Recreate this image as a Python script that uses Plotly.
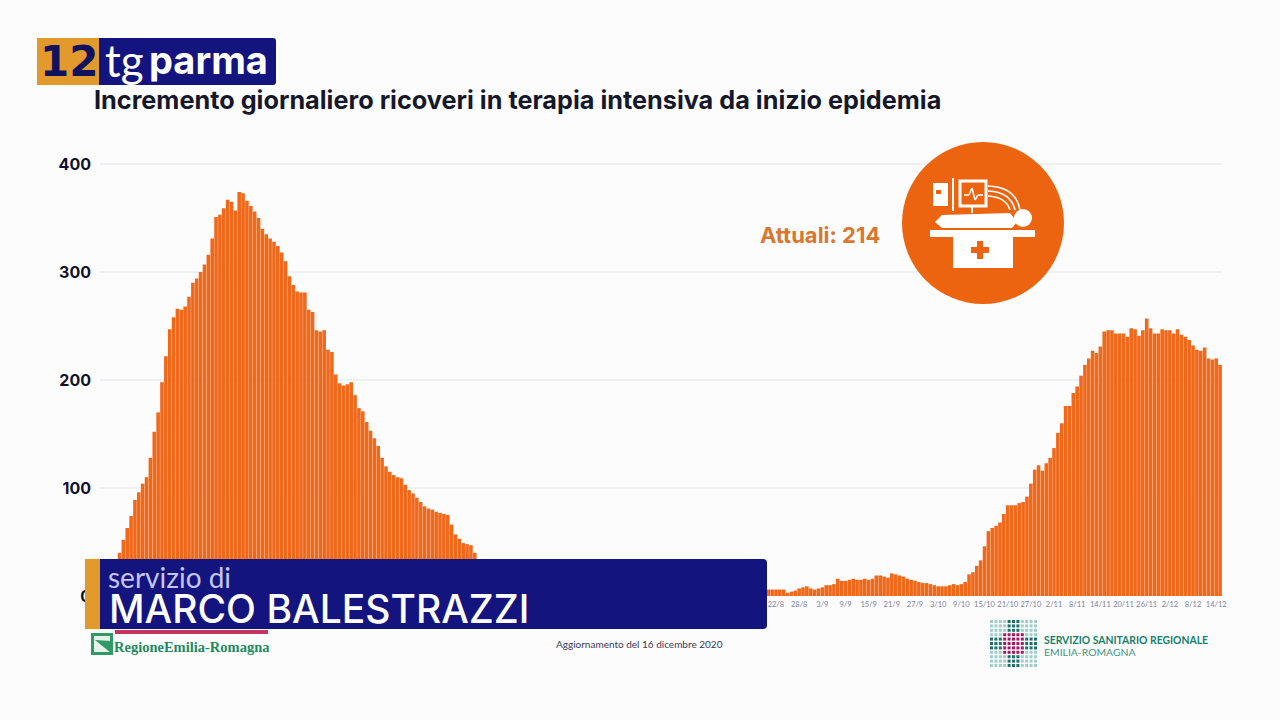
import datetime as dt
import plotly.graph_objects as go

# ---------- data ----------
first_wave = [6, 14, 26, 40, 52, 63, 74, 89, 96, 104, 110, 128, 152, 170, 198, 222, 247, 258, 266, 265,
              268, 277, 290, 294, 300, 307, 316, 331, 351, 353, 359, 367, 365, 357, 374, 373, 366, 361,
              356, 350, 340, 335, 331, 328, 324, 318, 310, 296, 288, 282, 281, 281, 265, 263, 246, 245,
              246, 228, 226, 205, 197, 195, 196, 198, 186, 174, 171, 161, 153, 146, 139, 128, 120, 115,
              112, 110, 109, 103, 98, 95, 91, 87, 83, 81, 80, 78, 77, 76, 75, 66, 57, 53, 49, 48, 47, 40, 34]
summer = [30, 28, 26, 25, 24, 22, 21, 20, 19, 18, 17, 16, 15, 14, 14, 13, 12, 12, 11, 11,
          10, 10, 9, 9, 8, 8, 7, 7, 7, 6, 6, 6, 5, 5, 5, 5, 4, 4, 4, 4,
          3, 3, 3, 3, 3, 3, 2, 2, 2, 2, 2, 2, 2, 2, 2, 2, 2, 2, 3, 3,
          3, 3, 4, 4, 4, 5, 5, 5, 5, 6, 6, 6, 6, 6]
second_wave = [6, 6, 6, 6, 6, 3, 4, 5, 7, 8, 9, 7, 6, 7, 8, 10, 10, 11, 16, 14,
               14, 15, 16, 15, 15, 16, 15, 16, 19, 19, 18, 17, 21, 20, 19, 18, 16, 15, 14, 13,
               12, 12, 11, 10, 9, 9, 9, 10, 11, 10, 11, 13, 20, 22, 28, 33, 46, 60, 63, 65,
               68, 76, 84, 84, 84, 86, 87, 92, 104, 117, 121, 116, 123, 128, 137, 151, 160, 176, 176, 188,
               194, 204, 214, 220, 227, 225, 231, 245, 246, 246, 243, 243, 243, 240, 248, 247, 241, 246, 257, 248,
               243, 243, 247, 246, 246, 243, 247, 242, 240, 237, 232, 228, 227, 230, 220, 219, 220, 214]
values = first_wave + summer + second_wave
last_day = dt.date(2020, 12, 15)
dates = [last_day - dt.timedelta(days=len(values) - 1 - i) for i in range(len(values))]
categories = [f"{d.day}/{d.month}" for d in dates]
x_tick_labels = ["22/8", "28/8", "3/9", "9/9", "15/9", "21/9", "27/9", "3/10", "9/10", "15/10",
                 "21/10", "27/10", "2/11", "8/11", "14/11", "20/11", "26/11", "2/12", "8/12", "14/12"]
y_ticks = [0, 100, 200, 300, 400]

TITLE = "Incremento giornaliero ricoveri in terapia intensiva da inizio epidemia"
ORANGE = "#f0681a"
NAVY = "#14147e"
GOLD = "#e39a2d"
W, H = 1280, 720


def px(x):
    return x / W


def py(y):
    return 1 - y / H


shapes = []
annotations = []


def rect(x0, y0, x1, y1, color, line=None, lw=0):
    shapes.append(dict(type="rect", xref="paper", yref="paper", x0=px(x0), x1=px(x1), y0=py(y1), y1=py(y0),
                       fillcolor=color, line=dict(color=line or color, width=lw), layer="above"))


def right_rounded(x0, y0, x1, y1, r, color):
    path = (f"M {px(x0):.5f},{py(y0):.5f} L {px(x1 - r):.5f},{py(y0):.5f} "
            f"Q {px(x1):.5f},{py(y0):.5f} {px(x1):.5f},{py(y0 + r):.5f} "
            f"L {px(x1):.5f},{py(y1 - r):.5f} Q {px(x1):.5f},{py(y1):.5f} {px(x1 - r):.5f},{py(y1):.5f} "
            f"L {px(x0):.5f},{py(y1):.5f} Z")
    shapes.append(dict(type="path", xref="paper", yref="paper", layer="above", fillcolor=color,
                       line=dict(width=0), path=path))


def circle(cx, cy, r, color):
    shapes.append(dict(type="circle", xref="paper", yref="paper", x0=px(cx - r), x1=px(cx + r),
                       y0=py(cy + r), y1=py(cy - r), fillcolor=color, line=dict(width=0), layer="above"))


def seg(x0, y0, x1, y1, color, lw):
    shapes.append(dict(type="line", xref="paper", yref="paper", x0=px(x0), x1=px(x1), y0=py(y0), y1=py(y1),
                       line=dict(color=color, width=lw), layer="above"))


def text(x, y, s, size, color, family="Lato", anchor="left", weight=None):
    font = dict(size=size, color=color, family=family)
    if weight:
        font["weight"] = weight
    annotations.append(dict(xref="paper", yref="paper", x=px(x), y=py(y), text=s, showarrow=False,
                            xanchor=anchor, yanchor="middle", font=font, borderpad=0, borderwidth=0))


# logo
rect(37, 38, 99, 85, GOLD)
right_rounded(99, 38, 276, 85, 3, NAVY)
text(40, 61, "<b>12</b>", 42, "#10125e", "DejaVu Sans")
text(105, 60, "tg", 44, "#ffffff", "Lato")
text(149, 60, "<b>parma</b>", 38, "#ffffff", "Inter")
# title
text(94, 100, f"<b>{TITLE}</b>", 25.25, "#15172b", "Inter")

# ICU badge
circle(983, 223, 81, "#ec6410")
text(760, 235, "<b>Attuali: 214</b>", 22, "#d9772f", "Inter")
rect(930, 230, 1035, 237, "#ffffff")
rect(953, 237, 1013, 268, "#ffffff")
rect(971, 247, 989, 253, "#ec6410")
rect(977, 241, 983, 259, "#ec6410")
shapes.append(dict(type="path", xref="paper", yref="paper", layer="above", fillcolor="#ffffff", line=dict(width=0),
                   path=" ".join(
                       f"{c} {px(a):.5f},{py(b):.5f}" for c, a, b in
                       [("M", 942, 215), ("L", 1010, 213), ("L", 1017, 222), ("L", 1012, 228), ("L", 942, 228),
                        ("L", 935, 222)]) + " Z"))
circle(1023, 218, 9, "#ffffff")
rect(960, 181, 986, 206, "#ec6410", "#ffffff", 3)
rect(933, 183, 948, 206, "#ffffff")
rect(936, 190, 941, 194, "#ec6410")
seg(953, 178, 953, 211, "#ffffff", 2)
seg(972, 206, 972, 213, "#ffffff", 2)
seg(964, 195, 969, 195, "#ffffff", 1.5)
seg(969, 195, 972, 188, "#ffffff", 1.5)
seg(972, 188, 975, 200, "#ffffff", 1.5)
seg(975, 200, 978, 195, "#ffffff", 1.5)
seg(978, 195, 983, 195, "#ffffff", 1.5)
for off in (0, 5, 10):
    shapes.append(dict(type="path", xref="paper", yref="paper", layer="above", line=dict(color="#ffffff", width=1.6),
                       path=f"M {px(988):.5f},{py(186 + off):.5f} Q {px(1016 - off):.5f},{py(187 + off):.5f} "
                            f"{px(1020 - off):.5f},{py(210):.5f}"))

# presenter banner
rect(85, 559, 101, 629, GOLD)
right_rounded(100, 559, 767, 629, 4, NAVY)
text(108, 577, "servizio di", 28, "#c3c6f0", "Lato")
text(109, 608, "MARCO BALESTRAZZI", 39, "#ffffff", "Inter", weight=500)

# footer
rect(115, 630, 268, 634, "#c0365f")
rect(91, 633, 113, 655, "#2f9a68")
rect(94, 636, 110, 652, "#e6f1ea")
shapes.append(dict(type="path", xref="paper", yref="paper", layer="above", fillcolor="#2f9a68", line=dict(width=0),
                   path=f"M {px(95):.5f},{py(640):.5f} L {px(111):.5f},{py(641):.5f} L {px(111):.5f},{py(653):.5f} Z"))
text(114, 647, "<b>RegioneEmilia-Romagna</b>", 14.5, "#1f8a5e", "Liberation Serif")
text(556, 644, "Aggiornamento del 16 dicembre 2020", 10, "#3a3a55", "Lato")
text(1044, 640, "<b>SERVIZIO SANITARIO REGIONALE</b>", 10.4, "#17806b", "Lato")
text(1044, 652, "EMILIA-ROMAGNA", 10.4, "#3f9583", "Lato")

# dot-matrix logo
for row in range(11):
    for col in range(11):
        x = 990 + col * 4.4
        y = 620 + row * 4.4
        dc, dr = abs(col - 5), abs(row - 5)
        if dc <= 2 and dr <= 2:
            color = "#a31a66"
        elif dc <= 1 or dr <= 1:
            color = "#1f6f6c"
        else:
            color = "#9fcfc8"
        rect(x, y, x + 3, y + 3, color)

fig = go.Figure(go.Bar(x=list(range(len(values))), y=values, marker=dict(color=ORANGE, line=dict(width=0)),
                       customdata=categories, hovertemplate="%{customdata}: %{y}<extra></extra>"))

tick_positions = []
search_from = 0
for label in x_tick_labels:
    idx = categories.index(label, search_from)
    tick_positions.append(idx)
    search_from = idx

PER_DAY = (1222 - 106) / len(values)
Y_TOP = 410
fig.update_layout(
    width=W, height=H, margin=dict(l=0, r=0, t=0, b=0, pad=0, autoexpand=False), autosize=False,
    paper_bgcolor="#fcfcfd", plot_bgcolor="#fcfcfd", bargap=0.07, showlegend=False,
    shapes=shapes, annotations=annotations,
    xaxis=dict(domain=[px(100), px(1222)], range=[-0.5 - 6 / PER_DAY, len(values) - 0.5], tickmode="array",
               tickvals=tick_positions, ticktext=x_tick_labels, showgrid=False, zeroline=False, showline=False,
               ticks="", ticklabelstandoff=2, tickfont=dict(size=7.5, color="#7c819b", family="Lato"), tickangle=0),
    yaxis=dict(domain=[py(596), py(596 - Y_TOP * 1.08)], range=[0, Y_TOP], tickmode="array", tickvals=y_ticks,
               ticktext=[f"<b>{v}</b>" for v in y_ticks], showgrid=True, gridcolor="#eff0f3", gridwidth=2,
               zeroline=False, showline=False, ticks="", ticklabelstandoff=8,
               tickfont=dict(size=16, color="#10122e", family="Inter")),
)
PAGE_CSS = ("var s=document.createElement('style');"
            "s.textContent='html,body{margin:0;padding:0;width:1280px;height:720px;overflow:hidden;background:#fcfcfd}"
            "body>div{display:block;width:1280px;height:720px;overflow:hidden}';"
            "document.head.appendChild(s);")
fig.write_html("out.html", config=dict(displayModeBar=False), post_script=PAGE_CSS)
